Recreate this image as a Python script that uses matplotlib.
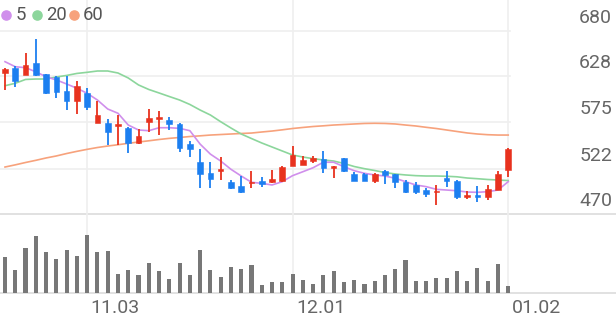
import matplotlib
matplotlib.use("Agg")
import matplotlib.pyplot as plt
from matplotlib.lines import Line2D

dates = ["10.22", "10.23", "10.24", "10.27", "10.28", "10.29", "10.30", "10.31",
         "11.03", "11.04", "11.05", "11.06", "11.07", "11.10", "11.11", "11.12",
         "11.13", "11.14", "11.17", "11.18", "11.19", "11.20", "11.21", "11.24",
         "11.25", "11.26", "11.27", "11.28", "12.01", "12.02", "12.03", "12.04",
         "12.05", "12.08", "12.09", "12.10", "12.11", "12.12", "12.15", "12.16",
         "12.17", "12.18", "12.19", "12.22", "12.23", "12.24", "12.26", "12.29",
         "12.30", "01.02"]

opens = [632, 638, 629.5, 643, 630.3, 627.6, 611.2, 599.7, 609.2, 574.1,
         574.8, 571.3, 569, 551.1, 575.2, 578.7, 577.9, 573.6, 550, 530,
         516.7, 519.4, 507.1, 502.1, 505.3, 507.9, 506.7, 508.2, 525.1, 526.2,
         530.8, 533.1, 523.1, 533.9, 515.6, 515.6, 508.2, 519.4, 515.6, 507.1,
         503.3, 497.5, 494.9, 511, 508.2, 489.9, 491.8, 489.9, 497.5, 520.5]
highs = [637, 640, 654.4, 670.5, 631, 628.7, 628.4, 623, 614.2, 599.7,
         579, 583.6, 570, 567.5, 590.5, 588.6, 581, 574.5, 553.8, 544.6,
         529.4, 535.1, 509, 513.6, 519.7, 512.8, 520.5, 525.4, 548, 536.9,
         536.6, 542.3, 525.5, 534.5, 518.6, 517.4, 517.4, 520.5, 516, 509,
         506.4, 499.5, 503.3, 519.4, 509, 496.7, 502.5, 503.3, 519.4, 545.4]
lows = [612.3, 615.4, 629, 628.4, 608, 603.5, 589.3, 584.4, 589.3, 574,
        549.2, 549.2, 540.4, 550, 564.5, 560.7, 566.4, 540.8, 535.1, 499.5,
        499.5, 509, 498.5, 493.8, 499.5, 500.7, 505.9, 507, 525, 526,
        528.9, 517.4, 511, 518.5, 507.5, 507.5, 505.3, 504.4, 499.5, 493.8,
        493, 489.2, 480.3, 501.4, 487.2, 487.2, 484.1, 486.1, 497, 512.8]
closes = [636, 622.6, 641, 629.5, 609.2, 609.7, 599.7, 617.2, 592.5, 583.6,
          563.8, 573.3, 551.1, 559.5, 579.8, 581.7, 573.3, 546.1, 544.3, 515.6,
          510.2, 522, 499.5, 494.9, 507.1, 504.1, 509.8, 524.3, 537.7, 532,
          534.3, 522.5, 525.1, 519.7, 508.2, 507.9, 515.6, 514.8, 507.1, 494.9,
          495.6, 492.6, 496.4, 507.9, 489.9, 491.8, 489.2, 498.7, 515.9, 544.3]
volumes = [356000, 233000, 450000, 566000, 406000, 340000, 426000, 366000, 580000, 406000,
           420000, 190000, 226000, 176000, 296000, 223000, 140000, 303000, 183000, 433000,
           230000, 156000, 256000, 240000, 276000, 80000, 106000, 106000, 190000, 126000,
           90000, 176000, 216000, 106000, 133000, 90000, 123000, 176000, 240000, 333000,
           116000, 123000, 150000, 150000, 216000, 116000, 250000, 123000, 293000, 66000]

ma5 = [644.8, 639.0, 637.9, 633.2, 627.5, 623.8, 619.2, 614.3, 608.5, 600.8,
       590.5, 585.6, 572.1, 566.4, 565.6, 569.0, 569.0, 568.3, 565.6, 550.2,
       538.7, 530.8, 521.3, 513.6, 506.4, 505.2, 503.3, 507.1, 514.0, 518.5,
       523.1, 529.4, 529.4, 524.3, 519.7, 516.7, 514.8, 513.6, 511.0, 507.1,
       503.3, 501.4, 498.3, 497.5, 496.7, 495.2, 494.9, 495.6, 497.5, 507.1]
ma20 = [617.2, 620.0, 624.4, 624.9, 624.9, 627.2, 629.0, 631.3, 632.6, 634.1,
        634.1, 631.8, 626.1, 618.1, 612.9, 608.9, 604.8, 600.8, 595.7, 589.3,
        583.6, 575.9, 568.7, 561.8, 556.6, 551.5, 546.9, 542.3, 537.7, 535.4,
        533.5, 532.0, 530.8, 528.0, 524.5, 522.0, 519.9, 517.6, 515.9, 514.8,
        514.0, 513.6, 513.6, 513.3, 512.7, 511.3, 510.5, 509.6, 509.0, 508.4]
ma60 = [523.9, 526.4, 529.1, 531.6, 534.3, 536.6, 539.4, 541.9, 544.2, 546.3,
        548.0, 549.5, 551.1, 552.6, 554.0, 555.5, 556.8, 557.8, 558.9, 559.7,
        560.6, 561.2, 561.8, 562.4, 562.9, 564.1, 565.2, 566.6, 568.1, 569.3,
        570.4, 571.2, 572.1, 572.7, 573.3, 573.9, 574.1, 573.9, 573.3, 572.1,
        571.0, 569.5, 568.1, 566.4, 564.7, 563.0, 561.8, 561.0, 560.6, 560.6]

y_ticks = [470, 522, 575, 628, 680]
x_tick_labels = ["11.03", "12.01", "01.02"]
legend_labels = ["5", "20", "60"]

RED = "#e8321e"
BLUE = "#1c7ff0"
C5 = "#d08fec"
C20 = "#8cd69c"
C60 = "#f7a27c"
GRID = "#efefef"
AXL = "#dedede"
TXT = "#666666"
VOL = "#777777"

W, H = 616, 321
fig = plt.figure(figsize=(W / 100, H / 100), dpi=100)
fig.patch.set_facecolor("white")

# pixel layout
px_per_idx = 10.27
x0_px = 5.0
xlim = (-x0_px / px_per_idx, (W - x0_px) / px_per_idx)

ax = fig.add_axes([0, (H - 214) / H, 1, 214 / H])
axv = fig.add_axes([0, (H - 293) / H, 1, 79 / H])

# price scale: 680 at y=31px, 470 at y=214px
upp = (680 - 470) / (214 - 31)
ax.set_ylim(470, 680 + 31 * upp)
ax.set_xlim(*xlim)
axv.set_xlim(*xlim)
axv.set_ylim(0, 79 * 10000)

for a in (ax, axv):
    a.set_facecolor("none")
    for s in a.spines.values():
        s.set_visible(False)
    a.set_xticks([])
    a.set_yticks([])

n = len(closes)
xs = list(range(n))
last = xs[-1]

# grid lines
for v in y_ticks[1:]:
    ax.plot([xlim[0], last + 0.15], [v, v], color=GRID, lw=1.2, zorder=0)
ax.plot([xlim[0], xlim[1]], [470, 470], color=AXL, lw=1.3, zorder=0, clip_on=False)
axv.plot([xlim[0], xlim[1]], [0, 0], color=AXL, lw=1.3, zorder=0, clip_on=False)

tick_idx = [dates.index(t) for t in x_tick_labels]
for ti in tick_idx:
    ax.axvline(ti, color=GRID, lw=1.2, zorder=0)
    axv.axvline(ti, color=GRID, lw=1.2, zorder=0)

# moving averages
ax.plot(xs, ma60, color=C60, lw=1.2, zorder=2)
ax.plot(xs, ma20, color=C20, lw=1.2, zorder=2)
ax.plot(xs, ma5, color=C5, lw=1.2, zorder=2)

# candles
for i in xs:
    o, h, l, c = opens[i], highs[i], lows[i], closes[i]
    col = RED if c >= o else BLUE
    ax.plot([i, i], [l, h], color=col, lw=1.3, zorder=3, solid_capstyle="butt")
    b = min(o, c)
    hh = max(abs(c - o), 1.6)
    ax.bar(i, hh, bottom=b, width=0.55, color=col, edgecolor=col, lw=0.4, zorder=4)

# volume
axv.bar(xs, volumes, width=0.4, color=VOL, zorder=2)

# y labels (right, above gridlines)
for v in y_ticks:
    ax.annotate(str(v), xy=(612 / W, v), xycoords=ax.get_yaxis_transform(),
                xytext=(0, 13 * 0.72), textcoords="offset points",
                ha="right", va="center", fontsize=14, color=TXT, family="Roboto")

# x labels
for ti, lab in zip(tick_idx, x_tick_labels):
    axv.annotate(lab, xy=(ti, 0), xycoords="data", xytext=(2.5, -15 * 0.72),
                 textcoords="offset points", ha="left", va="center",
                 fontsize=14, color=TXT, family="Roboto", annotation_clip=False)

# legend
leg_cols = [C5, C20, C60]
dot_x = [5.7, 37.3, 74.0]
txt_x = [15.5, 46.5, 82.5]
for lab, col, dx, tx in zip(legend_labels, leg_cols, dot_x, txt_x):
    fig.add_artist(Line2D([dx / W], [1 - 15.3 / H], marker="o", ms=6.6,
                          color=col, mec=col, transform=fig.transFigure, ls="none"))
    fig.text(tx / W, 1 - 15.5 / H, lab, ha="left", va="center", fontsize=13.3,
             color="#555555", family="Roboto")

fig.savefig("out.png", dpi=100, facecolor="white")
